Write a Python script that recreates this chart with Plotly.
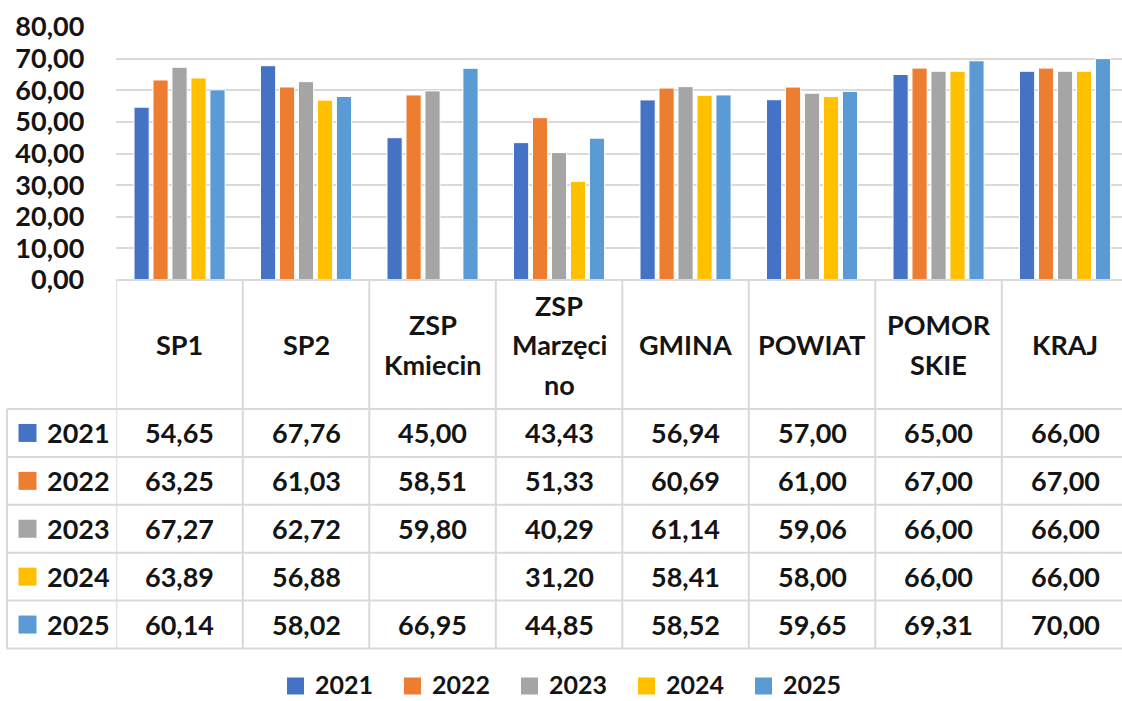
import plotly.graph_objects as go

categories = ["SP1", "SP2", "ZSP\nKmiecin", "ZSP\nMarzęci\nno", "GMINA", "POWIAT", "POMOR\nSKIE", "KRAJ"]
years = ["2021", "2022", "2023", "2024", "2025"]
v2021 = [54.65, 67.76, 45.00, 43.43, 56.94, 57.00, 65.00, 66.00]
v2022 = [63.25, 61.03, 58.51, 51.33, 60.69, 61.00, 67.00, 67.00]
v2023 = [67.27, 62.72, 59.80, 40.29, 61.14, 59.06, 66.00, 66.00]
v2024 = [63.89, 56.88, None, 31.20, 58.41, 58.00, 66.00, 66.00]
v2025 = [60.14, 58.02, 66.95, 44.85, 58.52, 59.65, 69.31, 70.00]
series = [v2021, v2022, v2023, v2024, v2025]
colors = ["#4472C4", "#ED7D31", "#A5A5A5", "#FFC000", "#5B9BD5"]
y_ticks = [0, 10, 20, 30, 40, 50, 60, 70, 80]

W, H = 1122, 701
FONT = "Lato"
TXT = "#141414"
GRID = "#d9d9d9"

# layout geometry (pixels)
plot_left = 116.3
col_w = 126.5
top_px, zero_px = 27, 280
header_h = 129
row_h = 47.9
first_left = 7
line_gap = 39.5
leg_x0, leg_pitch, leg_y, leg_sq = 287, 117, 684, 17

def px_x(p):
    return p / W

def px_y(p):
    return 1 - p / H

n = len(categories)
x_idx = list(range(n))
x_max = -0.5 + (W - plot_left) / col_w

fig = go.Figure()
for yr, vals, c in zip(years, series, colors):
    fig.add_trace(go.Bar(
        x=x_idx, y=vals, name=yr, showlegend=False,
        marker=dict(color=c, line=dict(color="white", width=1)),
    ))

fig.update_layout(
    width=W, height=H,
    margin=dict(l=0, r=0, t=0, b=0, autoexpand=False),
    paper_bgcolor="white", plot_bgcolor="white",
    barmode="group", bargap=0.25, bargroupgap=0.2,
    separators=", ",
    font=dict(family=FONT, color=TXT),
    showlegend=False,
    xaxis=dict(domain=[px_x(plot_left), 1], range=[-0.5, x_max],
               showticklabels=False, showgrid=False, zeroline=False, showline=False,
               automargin=False, fixedrange=True),
    yaxis=dict(domain=[px_y(zero_px), px_y(top_px)], range=[0, 80],
               tickvals=y_ticks, tickformat=".2f",
               showgrid=True, gridcolor=GRID, gridwidth=1.5,
               zeroline=False, showline=False, ticks="",
               ticklabelstandoff=31, automargin=False,
               tickfont=dict(family=FONT, size=27, color=TXT, weight="bold"),
               fixedrange=True),
)

shapes = []
ann = []
table_bottom = zero_px + header_h + row_h * len(years)
header_bottom = zero_px + header_h

# vertical lines at category boundaries
for i in range(n + 1):
    shapes.append(dict(type="line", xref="x", yref="paper",
                       x0=i - 0.5, x1=i - 0.5, y0=px_y(zero_px), y1=px_y(table_bottom),
                       line=dict(color=GRID, width=2)))
# left border of label column
shapes.append(dict(type="line", xref="paper", yref="paper",
                   x0=px_x(first_left), x1=px_x(first_left),
                   y0=px_y(header_bottom), y1=px_y(table_bottom),
                   line=dict(color=GRID, width=2)))
# header top line
shapes.append(dict(type="line", xref="x", yref="paper", x0=-0.5, x1=n - 0.5,
                   y0=px_y(zero_px), y1=px_y(zero_px), line=dict(color=GRID, width=2)))
# row lines
for r in range(len(years) + 1):
    yy = header_bottom + r * row_h
    shapes.append(dict(type="line", xref="paper", yref="paper", x0=px_x(first_left), x1=1,
                       y0=px_y(yy), y1=px_y(yy), line=dict(color=GRID, width=2)))

# header texts
hdr_center = zero_px + header_h / 2
for i, cat in enumerate(categories):
    lines = cat.split("\n")
    k = len(lines)
    for j, ln in enumerate(lines):
        yc = hdr_center + (j - (k - 1) / 2) * line_gap
        ann.append(dict(xref="x", yref="paper", x=i, y=px_y(yc), text=ln, showarrow=False,
                        xanchor="center", yanchor="middle",
                        font=dict(family=FONT, size=27, color=TXT, weight="bold")))

# data rows
for r, (yr, vals, c) in enumerate(zip(years, series, colors)):
    yc = header_bottom + (r + 0.5) * row_h
    shapes.append(dict(type="rect", xref="paper", yref="paper",
                       x0=px_x(18.5), x1=px_x(36.5), y0=px_y(yc - 9), y1=px_y(yc + 9),
                       fillcolor=c, line=dict(width=0)))
    ann.append(dict(xref="paper", yref="paper", x=px_x(45), y=px_y(yc), text=yr, showarrow=False,
                    xanchor="left", yanchor="middle",
                    font=dict(family=FONT, size=27, color=TXT, weight="bold")))
    for i, v in enumerate(vals):
        if v is None:
            continue
        ann.append(dict(xref="x", yref="paper", x=i, y=px_y(yc),
                        text=f"{v:.2f}".replace(".", ","), showarrow=False,
                        xanchor="center", yanchor="middle",
                        font=dict(family=FONT, size=27, color=TXT, weight="bold")))

# legend (bottom)
for k, (yr, c) in enumerate(zip(years, colors)):
    x0 = leg_x0 + k * leg_pitch
    shapes.append(dict(type="rect", xref="paper", yref="paper",
                       x0=px_x(x0), x1=px_x(x0 + leg_sq),
                       y0=px_y(leg_y + 2 + leg_sq / 2), y1=px_y(leg_y + 2 - leg_sq / 2),
                       fillcolor=c, line=dict(width=0)))
    ann.append(dict(xref="paper", yref="paper", x=px_x(x0 + leg_sq + 9), y=px_y(leg_y),
                    text=yr, showarrow=False, xanchor="left", yanchor="middle",
                    font=dict(family=FONT, size=25, color=TXT, weight="bold")))

fig.update_layout(shapes=shapes, annotations=ann)
fig.write_html("out.html", config={"displayModeBar": False},
               post_script="document.body.style.margin='0';document.body.style.overflow='hidden';")
